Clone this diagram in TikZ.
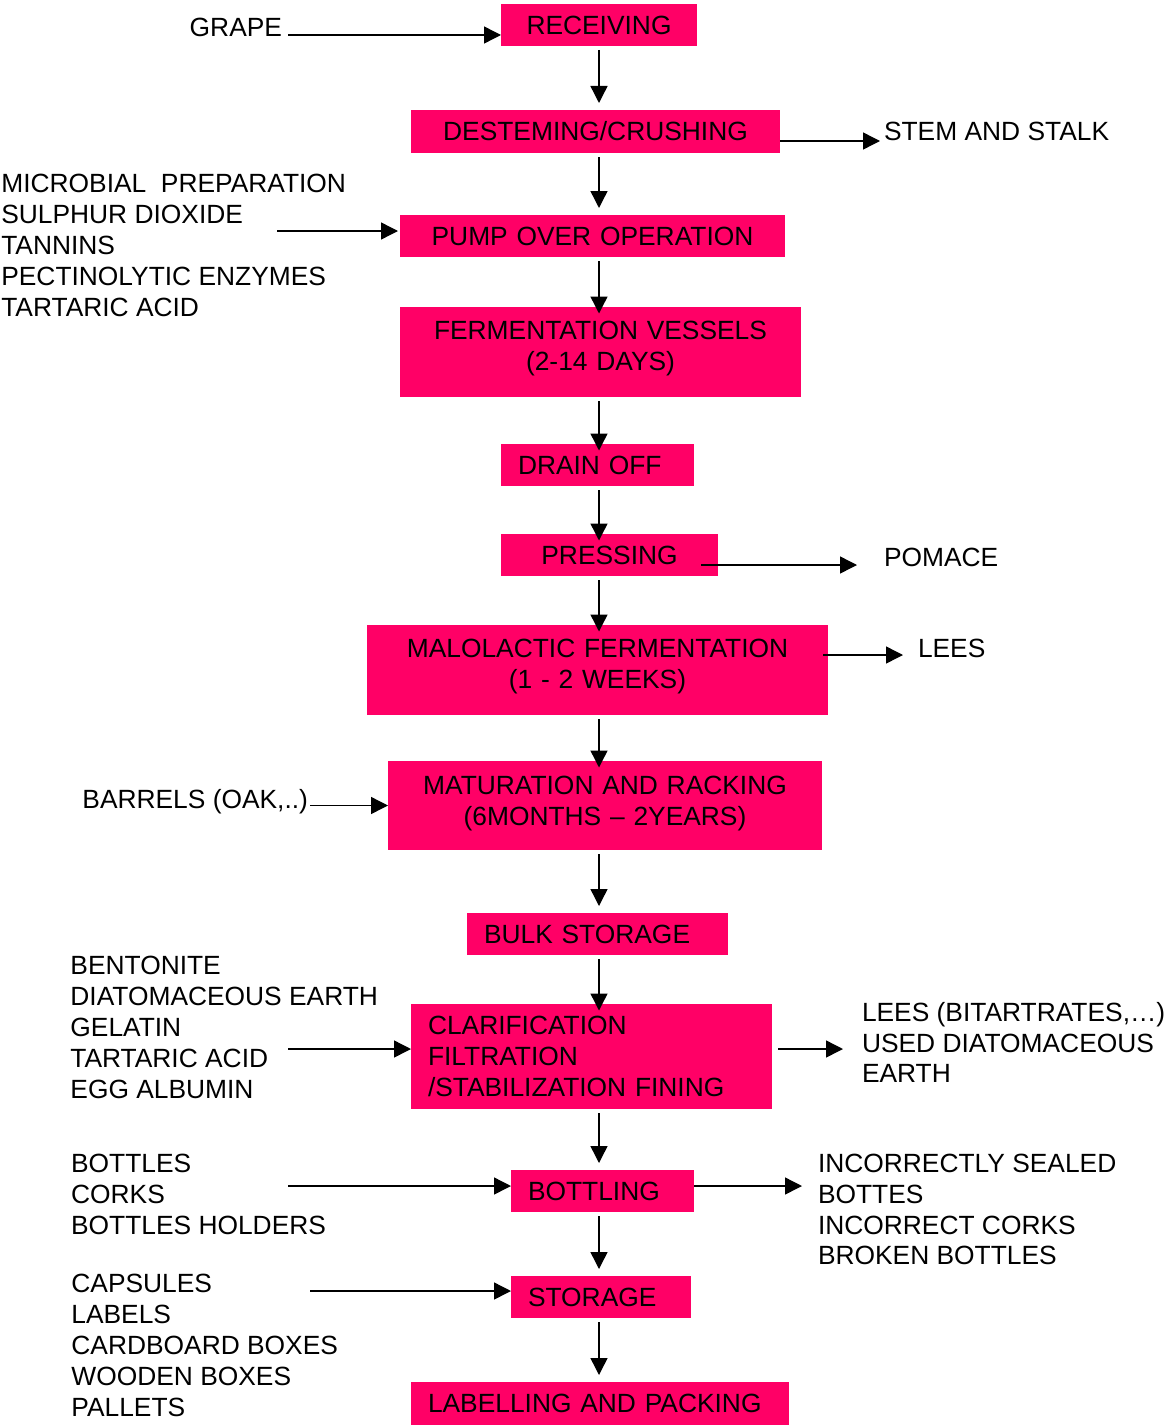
\documentclass[tikz,border=0pt]{standalone}
\usepackage{fontspec}
\setmainfont{Liberation Sans}
\usetikzlibrary{positioning, arrows.meta}
\definecolor{boxpink}{HTML}{FF0066}
\tikzset{
  stage/.style={fill=boxpink, inner xsep=0.34cm, inner ysep=0pt, outer sep=0pt, minimum height=0.84cm, align=center},
  stageleft/.style={stage, align=left},
  note/.style={inner sep=0pt, outer sep=0pt, align=left},
  flow/.style={-{Triangle[length=0.34cm,width=0.34cm]}, line width=0.8pt},
  down/.style={flow, shorten <=0.08cm, shorten >=0.14cm},
  into/.style={flow, shorten <=0.08cm, shorten >=-0.13cm}
}

\begin{document}
\begin{tikzpicture}[font=\fontsize{15}{17.6}\selectfont]
      \useasboundingbox (0,0) rectangle (23.46,-28.52);
      \node[stage, text width=3.24cm] (rec) at (11.98,-0.5) {RECEIVING};
      \node[stage, text width=6.70cm, minimum height=0.86cm] (des) [below=1.28cm of rec, xshift=-0.07cm] {DESTEMING/CRUSHING};
      \node[stage, text width=7.02cm] (pump) [below=1.24cm of des, xshift=-0.06cm] {PUMP OVER OPERATION};
      \node[stage, text width=7.34cm, minimum height=1.8cm, text depth=0.87cm] (ferm) [below=1cm of pump, xshift=0.16cm] {FERMENTATION VESSELS\\(2-14 DAYS)};
      \node[stageleft, text width=3.18cm] (drain) [below=0.94cm of ferm, xshift=-0.06cm] {DRAIN OFF};
      \node[stage, text width=3.66cm] (press) [below=0.96cm of drain, xshift=0.24cm] {PRESSING};
      \node[stage, text width=8.54cm, minimum height=1.8cm, text depth=0.87cm] (malo) [below=0.98cm of press, xshift=-0.24cm] {MALOLACTIC FERMENTATION\\(1 - 2 WEEKS)};
      \node[stage, text width=8.00cm, minimum height=1.78cm, text depth=0.81cm] (mat) [below=0.92cm of malo, xshift=0.15cm] {MATURATION AND RACKING\\(6MONTHS – 2YEARS)};
      \node[stageleft, text width=4.54cm] (bulk) [below=1.26cm of mat, xshift=-0.15cm] {BULK STORAGE};
      \node[stageleft, text width=6.54cm, minimum height=2.1cm] (clar) [below=0.98cm of bulk, xshift=-0.12cm] {CLARIFICATION\\FILTRATION\\/STABILIZATION FINING};
      \node[stageleft, text width=2.98cm] (bott) [below=1.22cm of clar, xshift=0.22cm] {BOTTLING};
      \node[stageleft, text width=2.92cm] (stor) [below=1.28cm of bott, xshift=-0.03cm] {STORAGE};
      \node[stageleft, text width=6.88cm, minimum height=0.86cm] (lab) [below=1.28cm of stor, xshift=-0.02cm] {LABELLING AND PACKING};

      \node[note] (grape) [left=4.38cm of rec, yshift=-0.04cm] {GRAPE};
      \node[note] (stem) [right=2.08cm of des] {STEM AND STALK};
      \node[note] (micro) [left=1.08cm of pump, yshift=-0.19cm] {MICROBIAL\ \ PREPARATION\\SULPHUR DIOXIDE\\TANNINS\\PECTINOLYTIC ENZYMES\\TARTARIC ACID};
      \node[note] (pomace) [right=3.32cm of press, yshift=-0.04cm] {POMACE};
      \node[note] (lees) [right=1.8cm of malo, yshift=0.44cm] {LEES};
      \node[note] (barrels) [left=1.6cm of mat, yshift=0.08cm] {BARRELS (OAK,..)};
      \node[note] (bent) [left=0.66cm of clar, yshift=0.58cm] {BENTONITE\\DIATOMACEOUS EARTH\\GELATIN\\TARTARIC ACID\\EGG ALBUMIN};
      \node[note] (lees2) [right=1.8cm of clar, yshift=0.28cm] {LEES (BITARTRATES,…)\\USED DIATOMACEOUS\\EARTH};
      \node[note] (bottles) [left=3.7cm of bott, yshift=-0.06cm] {BOTTLES\\CORKS\\BOTTLES HOLDERS};
      \node[note] (incor) [right=2.48cm of bott, yshift=-0.37cm] {INCORRECTLY SEALED\\BOTTES\\INCORRECT CORKS\\BROKEN BOTTLES};
      \node[note] (caps) [left=3.46cm of stor, yshift=-0.97cm] {CAPSULES\\LABELS\\CARDBOARD BOXES\\WOODEN BOXES\\PALLETS};

      \draw[down] (rec.south) -- (rec.south |- des.north);
      \draw[down] (des.south -| rec.south) -- (pump.north -| rec.south);
      \draw[into] (pump.south -| rec.south) -- (ferm.north -| rec.south);
      \draw[into] (ferm.south -| rec.south) -- (drain.north -| rec.south);
      \draw[into] (drain.south -| rec.south) -- (press.north -| rec.south);
      \draw[into] (press.south -| rec.south) -- (malo.north -| rec.south);
      \draw[into] (malo.south -| rec.south) -- (mat.north -| rec.south);
      \draw[down] (mat.south -| rec.south) -- (bulk.north -| rec.south);
      \draw[into] (bulk.south -| rec.south) -- (clar.north -| rec.south);
      \draw[down] (clar.south -| rec.south) -- (bott.north -| rec.south);
      \draw[down] (bott.south -| rec.south) -- (stor.north -| rec.south);
      \draw[down] (stor.south -| rec.south) -- (lab.north -| rec.south);

      \draw[flow] ([xshift=0.12cm,yshift=-0.2cm]grape.east |- rec.west) -- ([yshift=-0.2cm]rec.west);
      \draw[flow] ([yshift=-0.19cm]des.east) -- ([xshift=-0.08cm,yshift=-0.19cm]stem.west |- des.east);
      \draw[flow] ([xshift=-1.38cm,yshift=0.1cm]micro.east |- pump.west) -- ([xshift=-0.04cm,yshift=0.1cm]pump.west);
      \draw[flow] ([xshift=-0.34cm,yshift=-0.2cm]press.east) -- ([xshift=-0.54cm,yshift=-0.2cm]pomace.west |- press.east);
      \draw[flow] ([xshift=-0.1cm,yshift=0.3cm]malo.east) -- ([xshift=-0.3cm,yshift=0.3cm]lees.west |- malo.east);
      \draw[flow] ([xshift=0.04cm]barrels.east |- mat.west) -- (mat.west);
      \draw[flow] ([xshift=-1.8cm,yshift=0.15cm]bent.east |- clar.west) -- ([yshift=0.15cm]clar.west);
      \draw[flow] ([xshift=0.12cm,yshift=0.15cm]clar.east) -- ([xshift=-0.38cm,yshift=0.15cm]lees2.west |- clar.east);
      \draw[flow] ([xshift=-0.76cm,yshift=0.1cm]bottles.east |- bott.west) -- ([yshift=0.1cm]bott.west);
      \draw[flow] ([yshift=0.1cm]bott.east) -- ([xshift=-0.32cm,yshift=0.1cm]incor.west |- bott.east);
      \draw[flow] ([xshift=-0.56cm,yshift=0.12cm]caps.east |- stor.west) -- ([yshift=0.12cm]stor.west);
\end{tikzpicture}
\end{document}
